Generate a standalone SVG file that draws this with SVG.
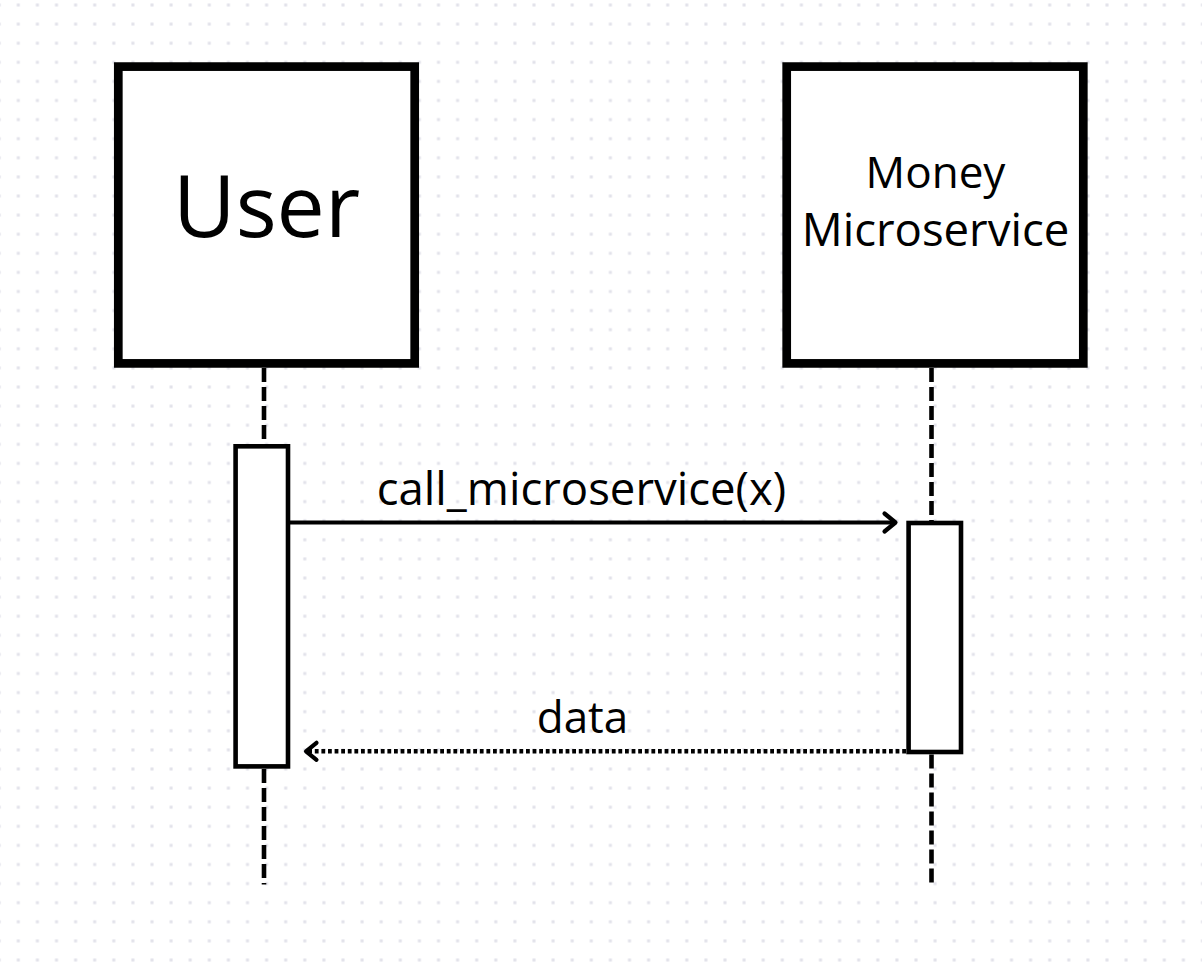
<svg xmlns="http://www.w3.org/2000/svg" width="1202" height="976" viewBox="0 0 1202 976">
  <defs>
    <pattern id="dots" patternUnits="userSpaceOnUse" x="8.75" y="-4.55" width="19.1" height="19.1">
      <rect x="8.05" y="8.05" width="3" height="3" fill="#e2e2ea"/>
    </pattern>
    <style>
      .actor { fill: #ffffff; stroke: #000000; stroke-width: 8.7; }
      .act { fill: #ffffff; stroke: #000000; stroke-width: 4.6; }
      .life { stroke: #000000; stroke-width: 4.6; stroke-dasharray: 14 5; fill: none; }
      .msg { stroke: #000000; stroke-width: 3.8; fill: none; }
      .ret { stroke: #000000; stroke-width: 4.4; fill: none; stroke-dasharray: 3.8 2.8; }
      .head { stroke: #000000; stroke-width: 4.2; fill: none; stroke-linecap: round; stroke-linejoin: round; }
      .label { font-family: "Open Sans", "Liberation Sans", sans-serif; fill: #000000; text-anchor: middle; }
    </style>
  </defs>
  <rect x="0" y="0" width="1202" height="976" fill="#ffffff"/>
  <rect x="0" y="0" width="1202" height="976" fill="url(#dots)"/>

  <g id="connectors">
    <line class="life" x1="264" y1="368" x2="264" y2="444"/>
    <line class="life" x1="264" y1="769" x2="264" y2="884.5"/>
    <line class="life" x1="931.5" y1="368" x2="931.5" y2="521"/>
    <line class="life" x1="931.5" y1="754.5" x2="931.5" y2="884.5"/>
    <g id="msg-call">
      <line class="msg" x1="290" y1="522.5" x2="895" y2="522.5"/>
      <polyline class="head" points="884.5,513.5 895.5,522.5 884.5,531.5"/>
      <text class="label" x="581.5" y="505" font-size="45.5">call_microservice(x)</text>
    </g>
    <g id="msg-data">
      <line class="ret" x1="906" y1="751.3" x2="308" y2="751.3"/>
      <polyline class="head" points="316.5,742.8 306,751.3 316.5,759.8"/>
      <text class="label" x="582.5" y="733" font-size="44">data</text>
    </g>
  </g>

  <g id="user">
    <rect class="actor" x="118.3" y="66.6" width="296.4" height="296.8"/>
    <text class="label" x="266.5" y="237" font-size="86">User</text>
  </g>
  <g id="money-microservice">
    <rect class="actor" x="786.7" y="66.6" width="296.6" height="296.8"/>
    <text class="label" x="935.5" y="188" font-size="44">Money</text>
    <text class="label" x="935.5" y="246" font-size="45.5">Microservice</text>
  </g>
  <g id="user-activation">
    <rect class="act" x="235.6" y="446.3" width="52.4" height="320.1"/>
  </g>
  <g id="money-activation">
    <rect class="act" x="908.6" y="523" width="52.4" height="229"/>
  </g>
</svg>
